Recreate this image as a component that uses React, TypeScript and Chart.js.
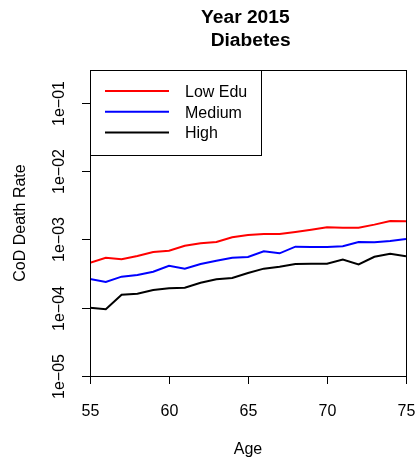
import React, { useEffect, useRef } from 'react';
import { Chart, registerables } from 'chart.js';

Chart.register(...registerables);

const ages = [55, 56, 57, 58, 59, 60, 61, 62, 63, 64, 65, 66, 67, 68, 69, 70, 71, 72, 73, 74, 75];
const lowEdu = [4.55e-4, 5.38e-4, 5.09e-4, 5.7e-4, 6.52e-4, 6.81e-4, 8.05e-4, 8.73e-4, 9.12e-4, 1.07e-3, 1.16e-3, 1.2e-3, 1.2e-3, 1.28e-3, 1.38e-3, 1.5e-3, 1.48e-3, 1.48e-3, 1.64e-3, 1.85e-3, 1.83e-3];
const medium = [2.62e-4, 2.37e-4, 2.84e-4, 3.01e-4, 3.36e-4, 4.11e-4, 3.72e-4, 4.35e-4, 4.86e-4, 5.38e-4, 5.51e-4, 6.67e-4, 6.24e-4, 7.8e-4, 7.72e-4, 7.72e-4, 7.91e-4, 9.12e-4, 9.04e-4, 9.44e-4, 1.01e-3];
const high = [1.0e-4, 9.46e-5, 1.55e-4, 1.6e-4, 1.81e-4, 1.92e-4, 1.96e-4, 2.32e-4, 2.6e-4, 2.72e-4, 3.21e-4, 3.72e-4, 3.97e-4, 4.35e-4, 4.4e-4, 4.4e-4, 5.04e-4, 4.3e-4, 5.56e-4, 6.15e-4, 5.64e-4];

const seriesLabels = ['Low Edu', 'Medium', 'High'];
const seriesColors = ['#FF0000', '#0000FF', '#000000'];
const xTicks = [55, 60, 65, 70, 75];
const yTicks = [1e-5, 1e-4, 1e-3, 1e-2, 1e-1];
const yTickLabels = ['1e\u221205', '1e\u221204', '1e\u221203', '1e\u221202', '1e\u221201'];
const titleLines = ['Year 2015 ', ' Diabetes'];
const xTitle = 'Age';
const yTitle = 'CoD Death Rate';

const FONT = "'Liberation Sans', Arial, Helvetica, sans-serif";

const rStylePlugin = {
  id: 'rStyle',
  afterDraw(chart: any) {
    const { ctx, chartArea: a, scales } = chart;
    const xs = scales.x;
    const ys = scales.y;
    ctx.save();
    ctx.strokeStyle = '#000';
    ctx.fillStyle = '#000';
    ctx.lineWidth = 1;

    // plot box
    const L = Math.round(a.left), T = Math.round(a.top);
    const R = Math.round(a.right), B = Math.round(a.bottom);
    ctx.strokeRect(L + 0.5, T + 0.5, R - L, B - T);

    // x ticks
    ctx.font = `16px ${FONT}`;
    ctx.textAlign = 'center';
    ctx.textBaseline = 'alphabetic';
    xTicks.forEach((t) => {
      const px = Math.round(xs.getPixelForValue(t)) + 0.5;
      ctx.beginPath();
      ctx.moveTo(px, B);
      ctx.lineTo(px, B + 8);
      ctx.stroke();
      ctx.fillText(String(t), px, B + 39.5);
    });

    // y ticks
    yTicks.forEach((t, i) => {
      const py = Math.round(ys.getPixelForValue(t)) + 0.5;
      ctx.beginPath();
      ctx.moveTo(L - 8, py);
      ctx.lineTo(L, py);
      ctx.stroke();
      ctx.save();
      ctx.translate(L - 26.5, py);
      ctx.rotate(-Math.PI / 2);
      ctx.fillText(yTickLabels[i], 0, 0);
      ctx.restore();
    });

    // axis titles
    ctx.fillText(xTitle, (a.left + a.right) / 2, B + 78);
    ctx.save();
    ctx.translate(25, (a.top + a.bottom) / 2);
    ctx.rotate(-Math.PI / 2);
    ctx.fillText(yTitle, 0, 0);
    ctx.restore();

    // main title
    ctx.font = `bold 19.2px ${FONT}`;
    const cx = (a.left + a.right) / 2;
    ctx.fillText(titleLines[0], cx, 23.3);
    ctx.fillText(titleLines[1], cx, 45.7);

    // legend
    ctx.fillStyle = '#FFFFFF';
    ctx.fillRect(L, T, 171, 85);
    ctx.strokeStyle = '#000';
    ctx.strokeRect(L + 0.5, T + 0.5, 171, 85);
    ctx.font = `16px ${FONT}`;
    ctx.textAlign = 'left';
    chart.data.datasets.forEach((ds: any, i: number) => {
      const yy = T + 21 + i * 20.8;
      ctx.strokeStyle = ds.borderColor;
      ctx.lineWidth = 2;
      ctx.beginPath();
      ctx.moveTo(L + 15, yy);
      ctx.lineTo(L + 79, yy);
      ctx.stroke();
      ctx.fillStyle = '#000';
      ctx.fillText(ds.label, L + 95, yy + 5.8);
    });
    ctx.restore();
  },
};

export default function App() {
  const canvasRef = useRef<HTMLCanvasElement | null>(null);

  useEffect(() => {
    if (!canvasRef.current) return;
    const series = [lowEdu, medium, high];
    const chart = new Chart(canvasRef.current, {
      type: 'line',
      data: {
        datasets: series.map((vals, i) => ({
          label: seriesLabels[i],
          data: ages.map((a, j) => ({ x: a, y: vals[j] })),
          borderColor: seriesColors[i],
          backgroundColor: seriesColors[i],
          borderWidth: 2,
          pointRadius: 0,
          fill: false,
          tension: 0,
        })),
      },
      options: {
        responsive: false,
        animation: false,
        events: [],
        layout: { padding: { left: 90, top: 70, right: 11, bottom: 84 } },
        scales: {
          x: { type: 'linear', min: 55, max: 75, display: false },
          y: { type: 'logarithmic', min: 1e-5, max: 0.3, display: false },
        },
        plugins: {
          legend: { display: false },
          title: { display: false },
          tooltip: { enabled: false },
        },
      },
      plugins: [rStylePlugin],
    });
    return () => chart.destroy();
  }, []);

  return (
    <div style={{ position: 'absolute', left: 0, top: 0, width: 417, height: 460, background: '#fff' }}>
      <canvas ref={canvasRef} width={417} height={460} style={{ display: 'block' }} />
    </div>
  );
}
